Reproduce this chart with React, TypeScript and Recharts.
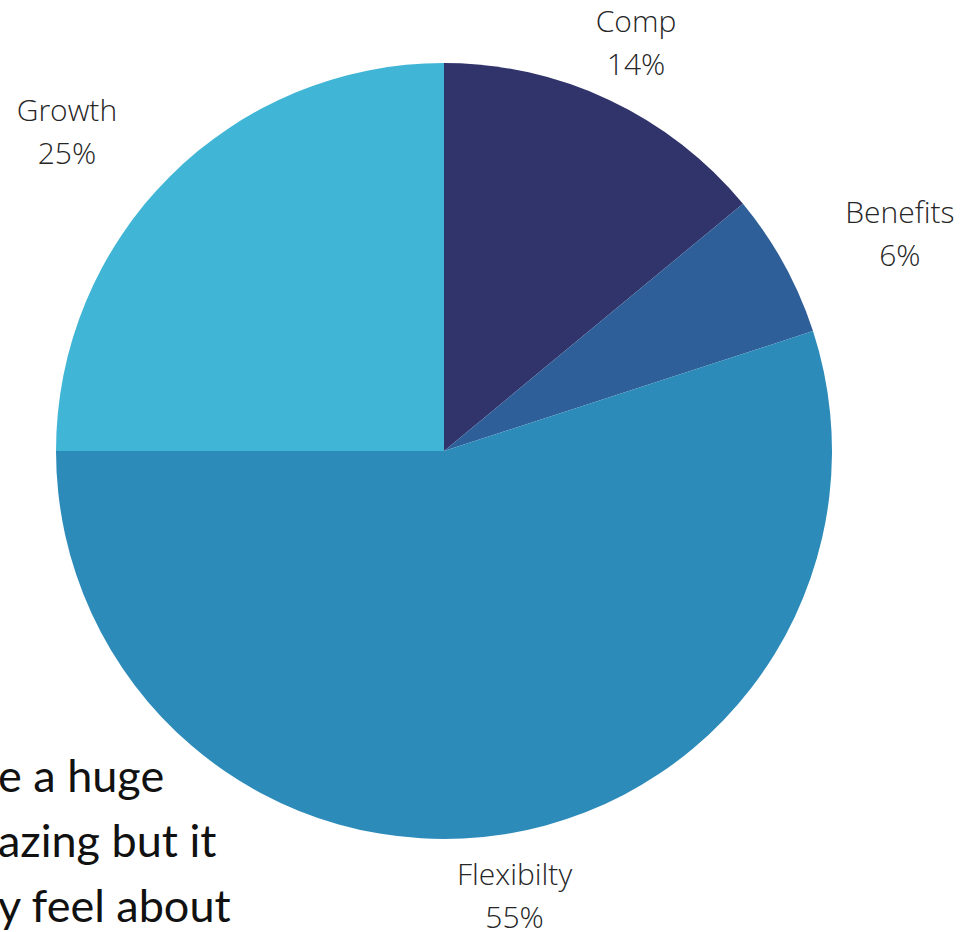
import React from 'react';
import { PieChart, Pie, Cell } from 'recharts';

const categories = ['Comp', 'Benefits', 'Flexibilty', 'Growth'];
const shares = [14, 6, 55, 25];
const colors = ['#31336b', '#2e5f99', '#2d8bba', '#40b5d6'];
const noteLines = ['e a huge', 'azing but it', 'y feel about'];

const data = categories.map((name, i) => ({ name, value: shares[i] }));

const RADIAN = Math.PI / 180;
const LABEL_FONT = '300 30px "Open Sans"';

let ctx: CanvasRenderingContext2D | null = null;
function textWidth(s: string) {
  if (!ctx) ctx = document.createElement('canvas').getContext('2d');
  if (!ctx) return s.length * 15;
  ctx.font = LABEL_FONT;
  return ctx.measureText(s).width;
}

// two-line label outside the rim; side labels hang off the anchor point
function renderLabel(props: any) {
  const { cx, cy, midAngle, outerRadius, name, value } = props;
  const r = outerRadius + 63;
  const cos = Math.cos(-midAngle * RADIAN);
  const sin = Math.sin(-midAngle * RADIAN);
  let x = cx + r * cos;
  const y = cy + r * sin;
  const w = Math.max(textWidth(name), textWidth(`${value}%`));
  if (cos > 0.5) x += 6 + w / 2;
  else if (cos < -0.5) x -= 8 + w / 2;
  return (
    <text x={x} y={y} textAnchor="middle" fill="#262626"
      style={{ font: LABEL_FONT }}>
      <tspan x={x} dy={-11}>{name}</tspan>
      <tspan x={x} dy={43}>{`${value}%`}</tspan>
    </text>
  );
}

export default function App() {
  return (
    <div style={{ position: 'absolute', left: 0, top: 0, width: 965, height: 932, overflow: 'hidden', background: '#fff' }}>
      <PieChart width={965} height={932} margin={{ top: 0, right: 0, bottom: 0, left: 0 }}>
        <Pie
          data={data}
          dataKey="value"
          nameKey="name"
          cx={444}
          cy={451}
          outerRadius={388}
          startAngle={90}
          endAngle={-270}
          stroke="none"
          label={renderLabel}
          labelLine={false}
          isAnimationActive={false}
        >
          {data.map((d, i) => <Cell key={d.name} fill={colors[i]} />)}
        </Pie>
      </PieChart>
      <div style={{ position: 'absolute', left: -2, top: 743, fontFamily: 'Lato', fontSize: 45, lineHeight: '65px', color: '#111' }}>
        {noteLines.map(l => <div key={l} style={{ whiteSpace: 'nowrap' }}>{l}</div>)}
      </div>
    </div>
  );
}
